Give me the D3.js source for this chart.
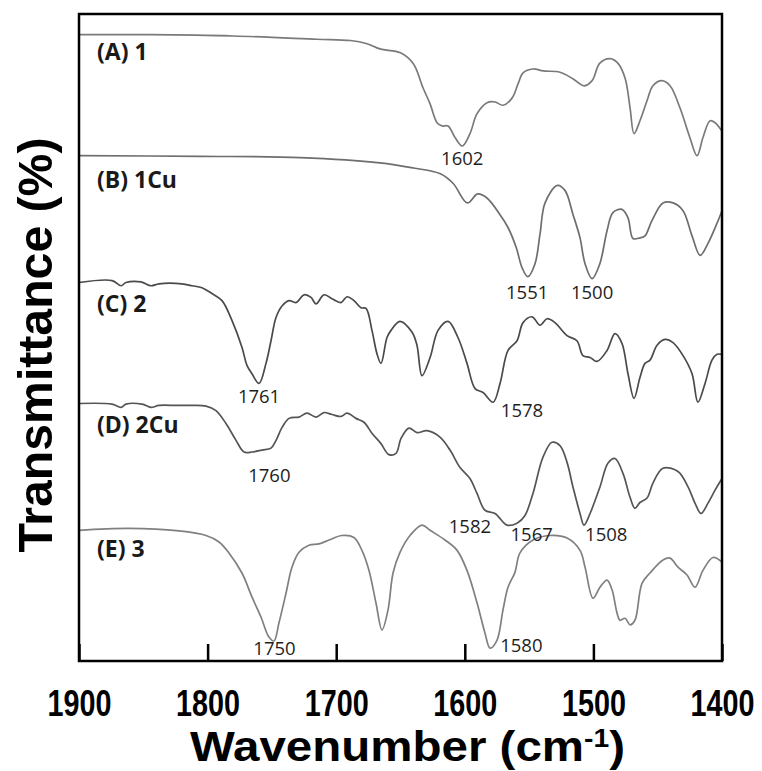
<!DOCTYPE html>
<html>
<head>
<meta charset="utf-8">
<script src="https://cdn.jsdelivr.net/npm/d3@7"></script>
<style>
  html, body { margin: 0; padding: 0; background: #fff; }
  svg { display: block; }
</style>
</head>
<body>
<div id="chart"></div>
<script>
// IR spectra, 1900-1400 cm-1, traces stacked with vertical offsets (a.u. of %T)
// each point: [wavenumber, transmittance]
const spectrumA = [
  [1900, 96.8], [1845, 96.8], [1780, 96.6], [1715, 96.1], [1689, 95.9], [1676, 95.4],
  [1666, 94.6], [1650, 94.0], [1640, 92.3], [1632.5, 88.6], [1627, 86.1], [1621.6, 83.2],
  [1617.7, 82.7], [1613, 82.7], [1607.6, 80.9], [1602, 79.6], [1596, 81.5], [1590.5, 84.6],
  [1582.7, 86.3], [1576.5, 86.4], [1570.3, 85.9], [1563.3, 87.0], [1558.6, 89.2], [1554.7, 90.9],
  [1547, 91.5], [1539, 91.2], [1526, 91.0], [1516, 90.0], [1507.3, 88.9], [1501, 89.7],
  [1495, 92.4], [1487, 93.1], [1481, 92.4], [1475.4, 90.1], [1471.5, 85.5], [1468.4, 81.5],
  [1463.8, 83.5], [1458.3, 86.6], [1453.7, 88.9], [1446.7, 89.7], [1440.4, 88.9], [1432.7, 85.5],
  [1425, 80.9], [1419.4, 78.1], [1414.8, 80.9], [1409.3, 83.5], [1405.4, 83.2], [1400, 81.9]
];

const spectrumB = [
  [1900, 78.1], [1806, 78.0], [1728, 77.8], [1666, 77.0], [1640, 76.2], [1619, 75.3],
  [1609, 73.8], [1598, 70.8], [1590, 72.2], [1583, 71.6], [1573, 69.1], [1566.4, 67.0],
  [1560, 63.9], [1555.5, 60.8], [1551, 59.4], [1545.4, 61.4], [1541.5, 66.0], [1537.6, 70.8],
  [1528, 73.5], [1522, 72.7], [1516, 69.1], [1510.4, 65.4], [1506.5, 61.4], [1501, 59.1],
  [1495, 61.4], [1489.4, 66.5], [1484.8, 69.3], [1477.8, 69.8], [1473.1, 68.5], [1469.2, 65.3],
  [1463.8, 65.4], [1459.9, 65.7], [1454.4, 68.1], [1445.9, 70.8], [1438, 70.8], [1430.3, 69.6],
  [1423.3, 65.7], [1417, 62.7], [1411, 64.5], [1404, 67.6], [1400, 69.6]
];

const spectrumC = [
  [1900, 58.5], [1874.3, 58.8], [1867.3, 58.0], [1863.5, 58.5], [1851.8, 58.6], [1844, 58.0],
  [1837.8, 58.3], [1820, 58.3], [1812, 58.0], [1804.4, 57.7], [1796.6, 56.8], [1788.8, 55.7],
  [1781, 52.6], [1773.3, 48.5], [1769.4, 45.7], [1765.5, 44.4], [1760, 42.9], [1754.6, 46.0],
  [1750.7, 49.5], [1746.8, 53.1], [1742, 54.9], [1736.7, 55.7], [1731.3, 55.4], [1725, 56.6],
  [1719.6, 56.2], [1715.7, 55.2], [1709.5, 56.6], [1703.3, 56.0], [1696.3, 55.4], [1691.6, 56.3],
  [1686.2, 55.7], [1680.7, 54.6], [1676.8, 54.5], [1672.2, 51.1], [1668.3, 47.5], [1665.2, 46.0],
  [1660.5, 50.0], [1657.4, 51.1], [1650.4, 52.5], [1641, 50.8], [1637.2, 48.8], [1633.3, 44.1],
  [1627, 46.9], [1620.8, 51.1], [1613, 52.5], [1605.3, 50.0], [1598.3, 46.0], [1592, 42.1],
  [1585.8, 41.5], [1578, 40.0], [1572.6, 42.9], [1566.4, 48.0], [1559.4, 49.5], [1554.7, 52.3],
  [1547.7, 53.2], [1541.5, 51.9], [1536, 52.9], [1529.9, 52.3], [1520.5, 50.3], [1512.8, 49.5],
  [1508.1, 47.2], [1502.6, 46.9], [1497.2, 46.3], [1489.4, 48.0], [1483.2, 50.6], [1477.8, 49.1],
  [1473.1, 44.4], [1468.4, 40.6], [1463.8, 43.8], [1459.9, 46.0], [1456, 46.5], [1450.5, 48.8],
  [1444.3, 49.7], [1438.1, 49.2], [1430.3, 47.2], [1423.3, 44.4], [1418.7, 40.0], [1413.2, 42.9],
  [1407.8, 46.5], [1403.9, 47.4], [1400, 47.4]
];

const spectrumD = [
  [1900, 39.8], [1874.3, 39.7], [1867.3, 39.2], [1863.5, 39.7], [1851, 39.7], [1844, 39.2],
  [1837.8, 39.5], [1824.6, 39.5], [1814.5, 39.5], [1801.2, 39.4], [1793.5, 38.7], [1785.7, 36.7],
  [1777.9, 34.1], [1771.7, 32.3], [1765.5, 32.3], [1757.7, 32.6], [1750.7, 32.9], [1746.8, 34.1],
  [1742.1, 36.1], [1736.7, 37.5], [1728.9, 37.7], [1722.7, 38.3], [1715.7, 37.7], [1709.5, 38.4],
  [1703.3, 38.1], [1696.3, 37.8], [1691.6, 38.3], [1684.6, 37.5], [1678.4, 36.9], [1672.2, 35.2],
  [1665.2, 33.6], [1659, 31.9], [1653.5, 32.1], [1649.6, 34.4], [1643.4, 36.0], [1637.2, 35.3],
  [1629.4, 35.6], [1619.3, 34.6], [1611.5, 32.6], [1603.7, 29.9], [1596, 28.2], [1590.5, 25.9],
  [1584.3, 23.3], [1576.5, 22.8], [1567.2, 21.0], [1559.4, 21.3], [1553.2, 22.5], [1547, 25.9],
  [1539.2, 31.5], [1532.2, 33.8], [1526, 33.3], [1520.5, 30.7], [1515.9, 26.9], [1510.4, 22.8],
  [1507.3, 21.0], [1502.6, 22.8], [1494.9, 26.9], [1488.6, 30.6], [1483.2, 31.3], [1477, 29.0],
  [1471.5, 25.3], [1467.7, 23.6], [1463.8, 24.5], [1458.3, 25.2], [1453.7, 27.5], [1445.9, 29.8],
  [1434.2, 29.3], [1426.4, 26.9], [1421, 24.4], [1416.3, 22.8], [1410.9, 24.4], [1405.4, 26.4],
  [1400, 28.2]
];

const spectrumE = [
  [1900, 20.2], [1861.1, 20.5], [1822.2, 20.1], [1801.2, 19.4], [1791.1, 18.4], [1783.4, 16.7],
  [1773.3, 13.6], [1765.5, 9.9], [1758.5, 6.8], [1752.3, 3.7], [1748.4, 3.1], [1744.5, 5.9],
  [1739, 10.5], [1734.4, 14.5], [1728.9, 16.8], [1721.2, 17.9], [1713.4, 18.1], [1705.6, 18.7],
  [1695.5, 19.4], [1686.2, 19.1], [1680, 17.1], [1674.5, 14.0], [1669.1, 9.0], [1664.4, 4.8],
  [1659.7, 7.9], [1655.8, 13.6], [1650.4, 16.8], [1642.6, 19.4], [1633.3, 21.0], [1627, 20.2],
  [1615.4, 18.7], [1606, 17.1], [1598.3, 14.0], [1590.5, 9.0], [1584.3, 4.3], [1580.4, 2.0],
  [1575, 3.2], [1570.3, 7.9], [1566.4, 11.4], [1561, 13.7], [1557.1, 16.7], [1547, 18.7],
  [1533.7, 19.4], [1520.5, 19.0], [1510.4, 17.1], [1506.5, 14.5], [1500.3, 9.7], [1494.9, 11.4],
  [1489.4, 12.5], [1485.5, 11.0], [1481.6, 7.4], [1479.3, 6.3], [1475.4, 6.6], [1471.5, 5.6],
  [1467.7, 6.3], [1462.2, 12.0], [1456, 13.6], [1445.9, 15.6], [1440.4, 15.9], [1434.2, 14.5],
  [1427.2, 13.3], [1421, 11.4], [1414.8, 14.0], [1407, 16.0], [1400, 15.3]
];

const seriesNames = ['(A) 1', '(B) 1Cu', '(C) 2', '(D) 2Cu', '(E) 3'];
const seriesData = [spectrumA, spectrumB, spectrumC, spectrumD, spectrumE];
const seriesLabelY = [92.9, 73.1, 53.9, 35.3, 16.0];
const seriesColors = ['#7a7a7a', '#6e6e6e', '#4a4a4a', '#555555', '#808080'];

// peak annotations: [text, wavenumber of label centre, transmittance of baseline]
const peakLabels = [
  ['1602', 1602, 76.7], ['1551', 1551.5, 56.0], ['1500', 1501, 56.0],
  ['1761', 1760, 39.8], ['1578', 1555.5, 37.7], ['1760', 1752, 27.6],
  ['1582', 1596, 19.8], ['1567', 1548, 18.5], ['1508', 1490, 18.5],
  ['1750', 1748, 0.9], ['1580', 1556, 1.4]
];

const xTicks = [1900, 1800, 1700, 1600, 1500, 1400];

const W = 762, H = 771;
const margin = { top: 14, right: 40, bottom: 110, left: 79 };

const svg = d3.select('#chart').append('svg')
  .attr('width', W)
  .attr('height', H);

const x = d3.scaleLinear().domain([1900, 1400]).range([margin.left, W - margin.right]);
const y = d3.scaleLinear().domain([0, 100]).range([H - margin.bottom, margin.top]);

const line = d3.line()
  .x(d => x(d[0]))
  .y(d => y(d[1]))
  .curve(d3.curveCatmullRom.alpha(0.5));

// spectra
svg.append('g')
  .selectAll('path')
  .data(seriesData)
  .enter()
  .append('path')
  .attr('d', line)
  .attr('fill', 'none')
  .attr('stroke', (d, i) => seriesColors[i])
  .attr('stroke-width', 1.7);

// sample labels
svg.append('g')
  .selectAll('text')
  .data(seriesNames)
  .enter()
  .append('text')
  .attr('x', x(1886))
  .attr('y', (d, i) => y(seriesLabelY[i]))
  .style('font-family', '"Open Sans", sans-serif')
  .style('font-weight', 'bold')
  .style('font-size', '23px')
  .style('fill', '#1a1a1a')
  .text(d => d);

// peak labels
svg.append('g')
  .selectAll('text')
  .data(peakLabels)
  .enter()
  .append('text')
  .attr('x', d => x(d[1]))
  .attr('y', d => y(d[2]))
  .attr('text-anchor', 'middle')
  .style('font-family', '"Open Sans", sans-serif')
  .style('font-size', '18.5px')
  .style('fill', '#1e1e1e')
  .text(d => d[0]);

// bottom axis with ticks pointing up into the plot
const xAxis = svg.append('g')
  .attr('transform', `translate(0,${y(0)})`)
  .call(d3.axisBottom(x).tickValues(xTicks).tickSize(-17).tickFormat(d3.format('d')));

xAxis.select('.domain').remove();
xAxis.selectAll('.tick line')
  .attr('stroke', '#000')
  .attr('stroke-width', 2.5);
xAxis.selectAll('.tick text')
  .attr('y', 55)
  .attr('dy', null)
  .attr('fill', '#000')
  .attr('textLength', 64)
  .attr('lengthAdjust', 'spacingAndGlyphs')
  .style('font-family', '"Liberation Sans", Arial, sans-serif')
  .style('font-weight', 'bold')
  .style('font-size', '36px');
// last label sits against the right edge: anchor it at its right end
xAxis.selectAll('.tick text')
  .filter(d => d === 1400)
  .attr('text-anchor', 'end')
  .attr('x', 32);

// frame
svg.append('rect')
  .attr('x', x(1900))
  .attr('y', y(100))
  .attr('width', x(1400) - x(1900))
  .attr('height', y(0) - y(100))
  .attr('fill', 'none')
  .attr('stroke', '#000')
  .attr('stroke-width', 2.5);

// axis titles
const xTitle = svg.append('text')
  .attr('x', (x(1900) + x(1400)) / 2 + 7)
  .attr('y', 761)
  .attr('text-anchor', 'middle')
  .attr('textLength', 435)
  .attr('lengthAdjust', 'spacingAndGlyphs')
  .style('font-family', '"Liberation Sans", Arial, sans-serif')
  .style('font-weight', 'bold')
  .style('font-size', '42px');
xTitle.append('tspan').text('Wavenumber (cm');
xTitle.append('tspan').attr('dy', -14).style('font-size', '25px').text('-1');
xTitle.append('tspan').attr('dy', 14).text(')');

svg.append('text')
  .attr('transform', 'translate(52,345) rotate(-90)')
  .attr('text-anchor', 'middle')
  .attr('textLength', 415)
  .attr('lengthAdjust', 'spacingAndGlyphs')
  .style('font-family', '"Liberation Sans", Arial, sans-serif')
  .style('font-weight', 'bold')
  .style('font-size', '48px')
  .text('Transmittance (%)');
</script>
</body>
</html>
